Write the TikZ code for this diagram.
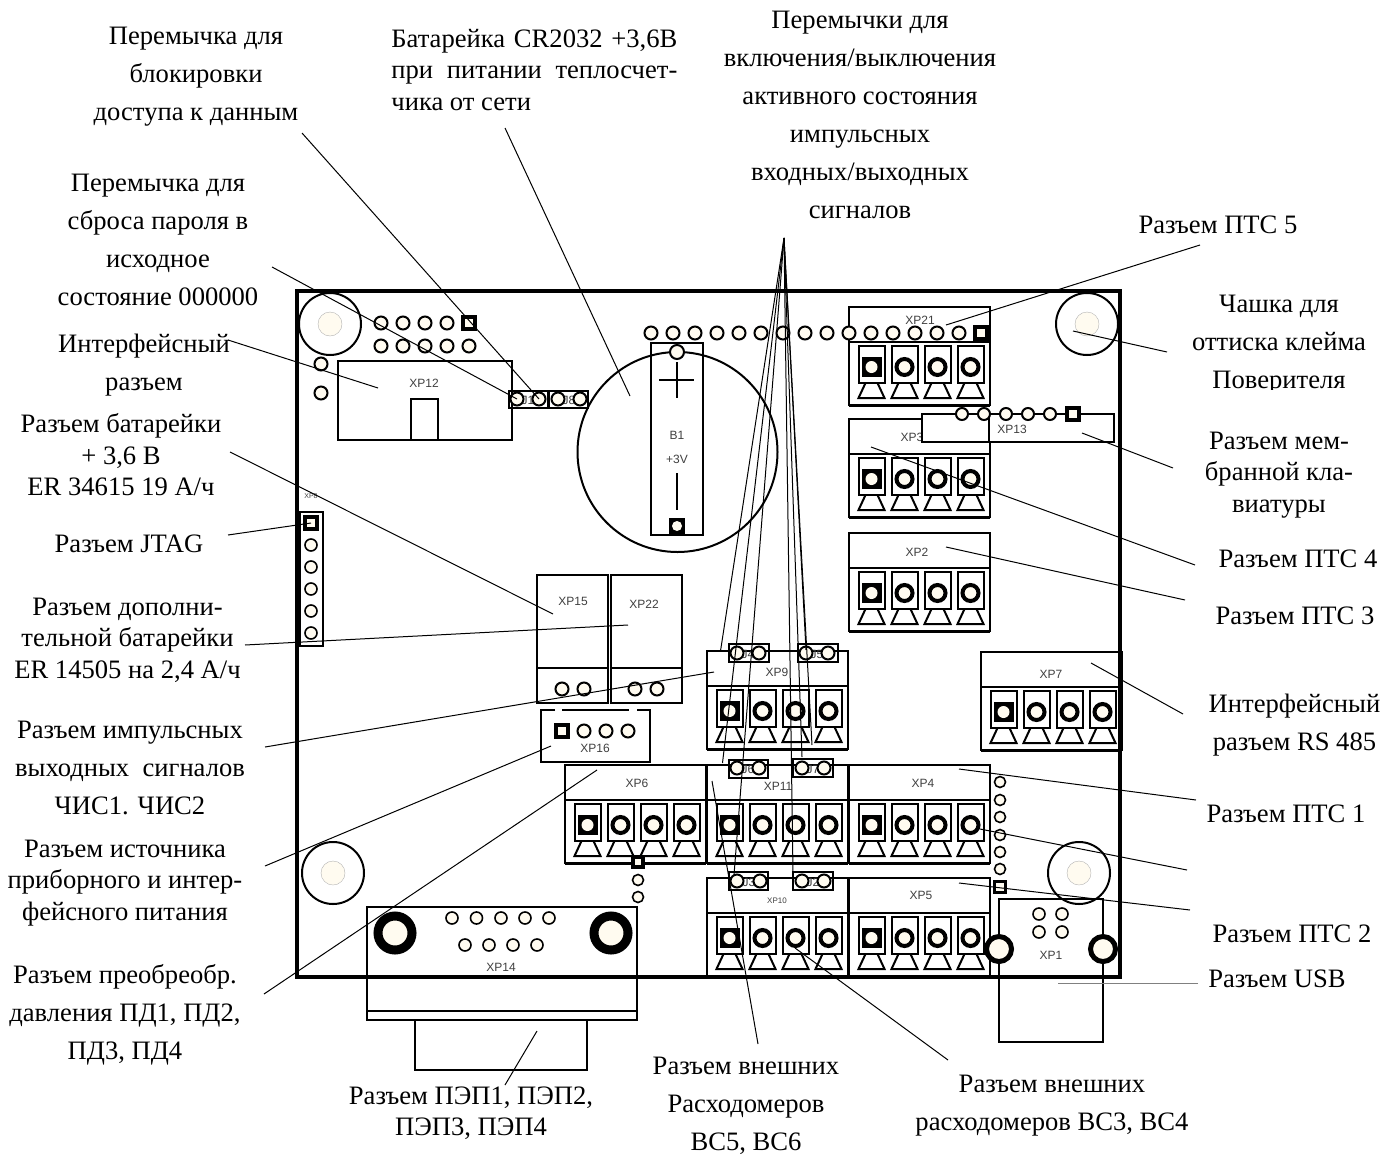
\documentclass[tikz,border=0pt]{standalone}
\usepackage{fontspec}
\setmainfont{Liberation Serif}
\newfontfamily\partfont{Liberation Sans}
\definecolor{padcream}{HTML}{FFFBF0}
\definecolor{partgray}{HTML}{404040}

\begin{document}
\begin{tikzpicture}[x=0.5pt,y=-0.5pt]
\tikzset{leader/.style = {line width=0.5pt}}
\tikzset{part/.style = {draw, line width=1pt, fill=white}}
\tikzset{plain/.style = {draw, line width=1pt}}
\tikzset{pad/.style = {shape=circle, draw, line width=1pt, fill=padcream, minimum size=6.5pt, inner sep=0pt}}
\tikzset{smallpad/.style = {shape=circle, draw, line width=0.8pt, fill=padcream, minimum size=5.5pt, inner sep=0pt}}
\tikzset{sqpad/.style = {shape=rectangle, draw, line width=1.6pt, fill=padcream, minimum size=6pt, inner sep=0pt}}
\tikzset{termpad/.style = {shape=circle, draw, line width=2pt, fill=padcream, minimum size=8pt, inner sep=0pt}}
\tikzset{termsq/.style = {shape=rectangle, fill=black, minimum size=10pt, inner sep=0pt}}
\tikzset{termdot/.style = {shape=circle, fill=padcream, minimum size=6pt, inner sep=0pt}}
\tikzset{mount/.style = {shape=circle, draw, line width=1pt, minimum size=31pt, inner sep=0pt}}
\tikzset{mounthole/.style = {shape=circle, draw=gray!60, line width=0.2pt, fill=padcream, minimum size=12pt, inner sep=0pt}}
\tikzset{partname/.style = {font=\partfont\fontsize{6}{7}\selectfont, text=partgray, inner sep=0pt}}
\tikzset{caption/.style = {align=center, inner sep=0pt, font=\fontsize{13.3}{19}\selectfont}}
\tikzset{captionb/.style = {align=center, inner sep=0pt, font=\fontsize{13.3}{15.7}\selectfont}}
\def\terminalblock#1#2#3{
\begin{scope}[shift={(#2,#3)}]
\draw[part] (0,0) rectangle (141,98);
\draw[plain] (0,35) -- (141,35);
\draw[line width=1.5pt] (0,98) -- (141,98);
\foreach \cx [count=\i] in {22.5,55.5,88.5,121.5} {
\draw[plain] (\cx-13,39) rectangle (\cx+13,76);
\draw[plain] (\cx-6,76) -- (\cx-13,91) -- (\cx+13,91) -- (\cx+6,76);
\ifnum\i=1
\node[termsq] (#1sq) at (\cx,60) {};
\node[termdot] (#1p\i) at (\cx,60) {};
\else
\node[termpad] (#1p\i) at (\cx,60) {};
\fi
}
\end{scope}
}

% mounting holes
\node[mount] (mounta) at (330,324) {};
\node[mount] (mountb) at (1087,324) {};
\node[mount] (mountc) at (333,873) {};
\node[mount] (mountd) at (1079,873) {};
\node[mounthole] (holea) at (330,324) {};
\node[mounthole] (holeb) at (1087,324) {};
\node[mounthole] (holec) at (333,873) {};
\node[mounthole] (holed) at (1079,873) {};

% top left header and XP12
\foreach \px in {381,403,425,447,469} {
\node[pad] (xpa\px) at (\px,346) {};
}
\foreach \px in {381,403,425,447} {
\node[pad] (xpb\px) at (\px,323) {};
}
\node[sqpad] (xpb469) at (469,323) {};
\node[pad] (xpc1) at (321,364) {};
\node[pad] (xpc2) at (321,393) {};
\node[plain, minimum width=87pt, minimum height=39.5pt, inner sep=0pt] (xp12) at (425,400.5) {};
\draw[plain] (411,440) -- (411,399) -- (438,399) -- (438,440);
\node[partname] (xp12name) at (424,383) {XP12};

% jumpers J1 J8
\node[partname] (j1name) at (528,400) {J1};
\node[partname] (j8name) at (569,400) {J8};
\draw[plain] (509,391) rectangle (548,408);
\draw[plain] (549,391) rectangle (588,408);
\node[pad] (j1a) at (517,399) {};
\node[pad] (j1b) at (539,399) {};
\node[pad] (j8a) at (558,399) {};
\node[pad] (j8b) at (580,399) {};

% battery
\node[shape=circle, draw, line width=1pt, minimum size=100pt, inner sep=0pt] (battery) at (677.5,452) {};
\draw[plain] (651,343) rectangle (703,535);
\draw[plain] (677,362) -- (677,398);
\draw[plain] (659,380) -- (694,380);
\draw[plain] (677,473) -- (677,510);
\node[partname] (b1name) at (677,435) {B1};
\node[partname] (b1volt) at (677,459) {+3V};
\node[pad, minimum size=7pt] (battop) at (677,352) {};
\node[termsq, minimum size=8pt] (batsq) at (677,526) {};
\node[termdot, minimum size=5pt] (batbot) at (677,526) {};

% terminal blocks
\terminalblock{xp21}{849}{307}
\terminalblock{xp3}{849}{419}
\terminalblock{xp2}{849}{533}
\terminalblock{xp7}{981}{652}
\terminalblock{xp9}{707}{651}
\terminalblock{xp6}{565}{765}
\terminalblock{xp11}{707}{765}
\terminalblock{xp4}{849}{765}
\terminalblock{xp10}{707}{878}
\terminalblock{xp5}{849}{878}
\node[partname] (xp21name) at (920,320) {XP21};
\node[partname] (xp3name) at (912,437) {XP3};
\node[partname] (xp2name) at (917,552) {XP2};
\node[partname] (xp7name) at (1051,674) {XP7};
\node[partname] (xp9name) at (777,672) {XP9};
\node[partname] (xp6name) at (637,783) {XP6};
\node[partname] (xp11name) at (778,786) {XP11};
\node[partname] (xp4name) at (923,783) {XP4};
\node[partname, font=\partfont\fontsize{4}{5}\selectfont] (xp10name) at (777,901) {XP10};
\node[partname] (xp5name) at (921,895) {XP5};

% pad row over the battery and XP21
\foreach \px in {651,673,695,717,739,761,783,805,827,849,871,893,915,937,959} {
\node[pad] (row\px) at (\px,333) {};
}
\node[sqpad] (row981) at (981,333) {};

% XP13
\draw[part] (922,414) rectangle (1114,442);
\draw[plain] (989,414) -- (989,442);
\node[partname] (xp13name) at (1012,429) {XP13};
\foreach \px in {962,984,1006,1028,1050} {
\node[pad, minimum size=6pt] (xp13p\px) at (\px,414) {};
}
\node[sqpad] (xp13p1073) at (1073,414) {};

% XP8
\node[partname, font=\partfont\fontsize{3.5}{4}\selectfont] (xp8name) at (311,496) {XP8};
\draw[plain] (300,512) rectangle (323,646);
\node[sqpad] (xp8a) at (311,523) {};
\foreach \py in {545,567,589,611,633} {
\node[pad, line width=0.8pt, minimum size=6pt] (xp8p\py) at (311,\py) {};
}

% XP15 XP22 XP16
\draw[part] (537,575) rectangle (608,703);
\draw[part] (611,575) rectangle (682,703);
\draw[plain] (537,668) -- (608,668);
\draw[plain] (611,668) -- (682,668);
\node[partname] (xp15name) at (573,601) {XP15};
\node[partname] (xp22name) at (644,604) {XP22};
\node[pad] (xp15a) at (562,689) {};
\node[pad] (xp15b) at (584,689) {};
\node[pad] (xp22a) at (635,689) {};
\node[pad] (xp22b) at (657,689) {};
\draw[plain] (555,710) -- (541,710) -- (541,762) -- (650,762) -- (650,710) -- (637,710);
\draw[plain] (562,710) -- (629,710);
\node[sqpad] (xp16a) at (562,731) {};
\node[pad] (xp16b) at (584,731) {};
\node[pad] (xp16c) at (606,731) {};
\node[pad] (xp16d) at (628,731) {};
\node[partname] (xp16name) at (595,748) {XP16};

% jumpers J2 - J7
\draw[plain] (729,644) rectangle (769,662);
\draw[plain] (798,644) rectangle (838,662);
\draw[plain] (729,760) rectangle (768,778);
\draw[plain] (793,759) rectangle (833,777);
\draw[plain] (729,872) rectangle (768,890);
\draw[plain] (793,872) rectangle (833,890);
\node[partname] (j4name) at (748,654) {J4};
\node[partname] (j5name) at (817,654) {J5};
\node[partname] (j6name) at (748,769) {J6};
\node[partname] (j7name) at (813,769) {J7};
\node[partname] (j3name) at (749,882) {J3};
\node[partname] (j2name) at (813,882) {J2};
\node[pad] (j4a) at (737,653) {};
\node[pad] (j4b) at (759,653) {};
\node[pad] (j5a) at (806,653) {};
\node[pad] (j5b) at (828,653) {};
\node[pad] (j6a) at (737,768) {};
\node[pad] (j6b) at (759,768) {};
\node[pad] (j7a) at (802,768) {};
\node[pad] (j7b) at (824,768) {};
\node[pad] (j3a) at (737,881) {};
\node[pad] (j3b) at (760,881) {};
\node[pad] (j2a) at (802,881) {};
\node[pad] (j2b) at (824,881) {};

% pads right of XP4
\foreach \py in {782,800,817,835,852,869} {
\node[smallpad] (xp4x\py) at (1000,\py) {};
}
\node[sqpad, minimum size=5.5pt] (xp4x887) at (1000,887) {};

% XP14
\draw[plain] (367,907) rectangle (637,1020);
\draw[plain] (367,1011) -- (637,1011);
\draw[plain] (415,1020) -- (415,1070) -- (587,1070) -- (587,1020);
\node[pad, line width=4.5pt, minimum size=17pt] (xp14a) at (395,933) {};
\node[pad, line width=4.5pt, minimum size=17pt] (xp14b) at (611,933) {};
\foreach \px in {452,476.5,501,525,549} {
\node[smallpad, minimum size=6pt] (xp14u\px) at (\px,918) {};
}
\foreach \px in {465,489,513,537} {
\node[smallpad, minimum size=6pt] (xp14v\px) at (\px,945) {};
}
\node[partname] (xp14name) at (501,967) {XP14};
\node[sqpad, minimum size=5pt] (xp14x862) at (638,862) {};
\node[smallpad] (xp14x880) at (638,880) {};
\node[smallpad] (xp14x897) at (638,897) {};

% XP1
\draw[plain] (999,899) rectangle (1103,1042);
\node[pad, line width=2.5pt, minimum size=12.5pt] (xp1a) at (999,949) {};
\node[pad, line width=2.5pt, minimum size=12.5pt] (xp1b) at (1103,949) {};
\node[smallpad, minimum size=6pt] (xp1c) at (1039,914) {};
\node[smallpad, minimum size=6pt] (xp1d) at (1062,914) {};
\node[smallpad, minimum size=6pt] (xp1e) at (1039,932) {};
\node[smallpad, minimum size=6pt] (xp1f) at (1062,932) {};
\node[partname] (xp1name) at (1051,955) {XP1};

% board
\node[draw, line width=1.6pt, minimum width=411.5pt, minimum height=343pt, inner sep=0pt] (board) at (708.5,634) {};

% captions
\node[caption] (capdata) at (196,77) {Перемычка для\\блокировки\\доступа к данным};
\node[captionb, align=left, anchor=west] (capbatt) at (391,70) {\makebox[143pt][s]{Батарейка CR2032 +3,6В}\\\makebox[143pt][s]{при питании теплосчет-}\\чика от сети};
\node[caption] (capjump) at (860,115) {Перемычки для\\включения/выключения\\активного состояния\\импульсных\\входных/выходных\\сигналов};
\node[caption] (cappass) at (158,240) {Перемычка для\\сброса пароля в\\исходное\\состояние 000000};
\node[caption] (capxp12) at (144,365) {Интерфейсный\\разъем};
\node[captionb] (capcell) at (121,455) {Разъем батарейки\\+ 3,6 В\\ER 34615 19 А/ч};
\node[caption] (capjtag) at (129,544) {Разъем JTAG};
\node[captionb] (capextra) at (127.5,640) {Разъем дополни-\\тельной батарейки\\ER 14505 на 2,4 А/ч};
\node[caption] (capout) at (130,768) {Разъем импульсных\\выходных\ \ сигналов\\ЧИС1. ЧИС2};
\node[captionb] (cappower) at (125,883) {Разъем источника\\приборного и интер-\\фейсного питания};
\node[caption] (cappress) at (125,1015) {Разъем преобреобр.\\давления ПД1, ПД2,\\ПД3, ПД4};
\node[captionb] (cappep) at (471,1113) {Разъем ПЭП1, ПЭП2,\\ПЭП3, ПЭП4};
\node[caption] (capflowa) at (746,1106) {Разъем внешних\\Расходомеров\\ВС5, ВС6};
\node[caption] (capflowb) at (1052,1106) {Разъем внешних\\расходомеров ВС3, ВС4};
\node[caption] (capptsf) at (1218,225) {Разъем ПТС 5};
\begin{scope}
\clip (1150,280) rectangle (1397,389);
\node[caption] (capcup) at (1279,345) {Чашка для\\оттиска клейма\\Поверителя};
\end{scope}
\node[captionb] (capkeys) at (1279,475) {Разъем мем-\\бранной кла-\\виатуры};
\node[caption] (capptsd) at (1298,559) {Разъем ПТС 4};
\node[caption] (capptsc) at (1295,616) {Разъем ПТС 3};
\begin{scope}
\clip (1190,690) rectangle (1397,755);
\node[caption] (caprs) at (1294.5,725) {Интерфейсный\\разъем RS 485};
\end{scope}
\node[caption] (capptsa) at (1286,814) {Разъем ПТС 1};
\node[caption] (capptsb) at (1292,934) {Разъем ПТС 2};
\node[caption] (capusb) at (1277,979) {Разъем USB};

% leader ends
\coordinate (fromdata) at (302,133);
\coordinate (frompass) at (272,267);
\coordinate (frombatt) at (505,128);
\coordinate (tobatt) at (630,396);
\coordinate (fromxp12) at (228,340);
\coordinate (toxp12) at (378,388);
\coordinate (fromcell) at (230,452);
\coordinate (tocell) at (553,614);
\coordinate (fromjtag) at (228,535);
\coordinate (fromextra) at (245,645);
\coordinate (toextra) at (628,625);
\coordinate (fromout) at (265,747);
\coordinate (toout) at (714,672);
\coordinate (frompower) at (265,866);
\coordinate (topower) at (551,746);
\coordinate (frompress) at (264,994);
\coordinate (topress) at (597,770);
\coordinate (frompep) at (505,1085);
\coordinate (topep) at (537,1031);
\coordinate (fromflowa) at (758,1044);
\coordinate (toflowa) at (712,781);
\coordinate (fromflowb) at (948,1060);
\coordinate (toflowb) at (795,948);
\coordinate (fromusb) at (1198,983);
\coordinate (tousb) at (1058,983);
\coordinate (fromptsf) at (1200,245);
\coordinate (toptsf) at (946,325);
\coordinate (fromcup) at (1167,352);
\coordinate (tocup) at (1073,331);
\coordinate (fromkeys) at (1173,468);
\coordinate (tokeys) at (1082,433);
\coordinate (fromptsd) at (1195,565);
\coordinate (toptsd) at (871,447);
\coordinate (fromptsc) at (1185,600);
\coordinate (toptsc) at (946,547);
\coordinate (fromrs) at (1183,714);
\coordinate (tors) at (1091,663);
\coordinate (fromptsa) at (1196,800);
\coordinate (toptsa) at (959,769);
\coordinate (fromblank) at (1187,870);
\coordinate (toblank) at (980,829);
\coordinate (fromptsb) at (1190,910);
\coordinate (toptsb) at (959,883);
\coordinate (fan) at (784,238);
\coordinate (fana) at (720.5,651);
\coordinate (fanb) at (722.5,763);
\coordinate (fanc) at (734,875);
\coordinate (fand) at (793,873);
\coordinate (fane) at (802,757);
\coordinate (fanf) at (806,650);
\coordinate (fang) at (812,745);

% leaders
\draw[leader] (fromdata) -- (j1b.center);
\draw[leader] (frompass) -- (j1a.center);
\draw[leader] (frombatt) -- (tobatt);
\draw[leader] (fromxp12) -- (toxp12);
\draw[leader] (fromcell) -- (tocell);
\draw[leader] (fromjtag) -- (xp8a.center);
\draw[leader] (fromextra) -- (toextra);
\draw[leader] (fromout) -- (toout);
\draw[leader] (frompower) -- (topower);
\draw[leader] (frompress) -- (topress);
\draw[leader] (frompep) -- (topep);
\draw[leader] (fromflowa) -- (toflowa);
\draw[leader] (fromflowb) -- (toflowb);
\draw[leader, draw=gray] (fromusb) -- (tousb);
\draw[leader] (fromptsf) -- (toptsf);
\draw[leader] (fromcup) -- (tocup);
\draw[leader] (fromkeys) -- (tokeys);
\draw[leader] (fromptsd) -- (toptsd);
\draw[leader] (fromptsc) -- (toptsc);
\draw[leader] (fromrs) -- (tors);
\draw[leader] (fromptsa) -- (toptsa);
\draw[leader] (fromblank) -- (toblank);
\draw[leader] (fromptsb) -- (toptsb);
\draw[leader] (fan) -- (fana);
\draw[leader] (fan) -- (fanb);
\draw[leader] (fan) -- (fanc);
\draw[leader] (fan) -- (fand);
\draw[leader] (fan) -- (fane);
\draw[leader] (fan) -- (fanf);
\draw[leader] (fan) -- (fang);

\useasboundingbox (0,0) rectangle (1397,1151);
\end{tikzpicture}
\end{document}
